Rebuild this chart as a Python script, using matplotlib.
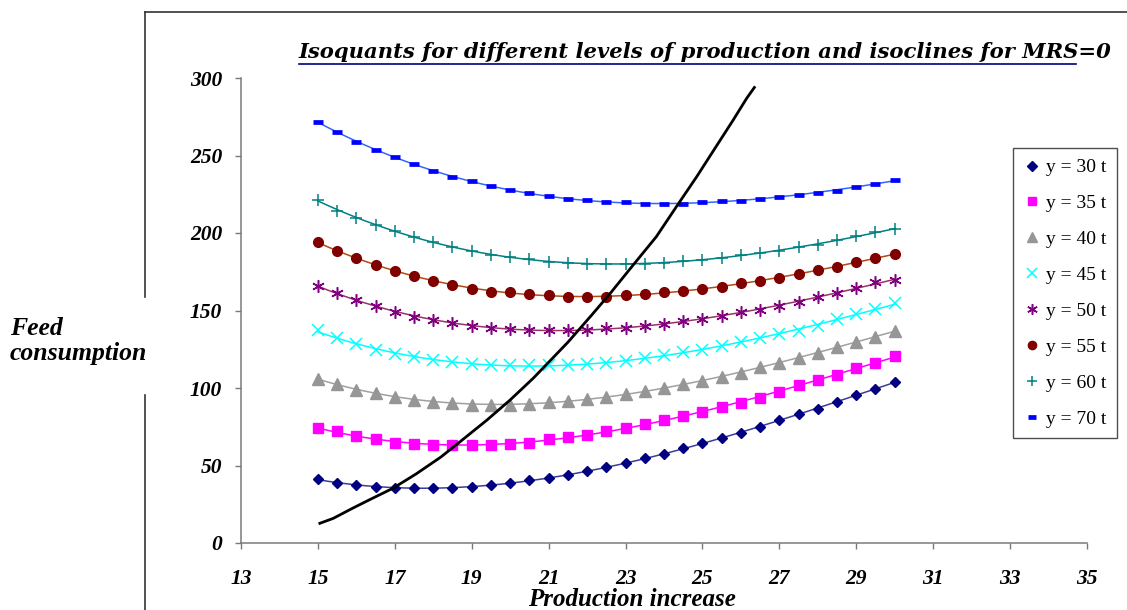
import matplotlib
matplotlib.use("Agg")
import matplotlib.pyplot as plt
from matplotlib.lines import Line2D
from matplotlib.font_manager import FontProperties
import numpy as np

# production increase (x) for the isoquant points
prod = [15, 15.5, 16, 16.5, 17, 17.5, 18, 18.5, 19, 19.5, 20, 20.5, 21, 21.5, 22,
        22.5, 23, 23.5, 24, 24.5, 25, 25.5, 26, 26.5, 27, 27.5, 28, 28.5, 29, 29.5, 30]

# feed consumption for each production level
y30 = [41.3, 38.9, 37.2, 36.3, 35.5, 35.5, 35.5, 35.5, 36.3, 37.2, 38.7, 40.4, 42.2, 43.9, 46.2,
       48.8, 51.4, 54.8, 57.4, 61.3, 64.3, 67.9, 71.2, 74.8, 79.1, 83.4, 86.7, 91.0, 95.3, 99.6, 103.9]
y35 = [74.4, 72.0, 69.2, 66.8, 64.8, 64.0, 63.3, 63.0, 63.3, 63.3, 64.0, 64.8, 66.8, 68.5, 70.0,
       72.1, 74.4, 76.9, 79.4, 82.0, 84.6, 88.0, 90.6, 93.8, 97.5, 101.8, 105.0, 108.4, 113.0, 116.2, 120.5]
y40 = [106.0, 102.7, 98.8, 96.8, 94.0, 92.0, 91.2, 90.6, 89.3, 89.3, 89.3, 89.7, 90.8, 91.9, 93.2,
       94.4, 96.2, 97.9, 99.8, 102.6, 104.7, 107.3, 110.0, 113.3, 116.1, 119.3, 122.8, 126.2, 129.8, 133.2, 137.0]
y45 = [137.3, 132.4, 128.5, 124.7, 121.9, 119.7, 118.0, 116.5, 115.4, 115.0, 114.8, 114.8, 115.0, 115.0, 115.6,
       116.1, 117.6, 119.1, 121.5, 123.0, 124.7, 127.3, 129.8, 132.4, 134.8, 137.0, 140.1, 144.4, 147.6, 150.8, 154.7]
y50 = [166.0, 161.0, 156.6, 153.0, 149.3, 146.0, 143.7, 142.0, 140.1, 138.6, 138.0, 137.5, 137.5, 137.5, 137.7,
       138.4, 139.0, 140.1, 141.0, 143.3, 144.4, 146.5, 149.3, 150.4, 153.0, 155.8, 158.4, 161.6, 164.2, 168.1, 169.8]
y55 = [194.1, 188.3, 184.0, 179.6, 175.3, 172.1, 169.3, 166.7, 163.9, 162.2, 161.7, 160.7, 160.0, 158.9, 158.9,
       158.9, 160.0, 160.7, 161.7, 162.4, 163.9, 165.0, 167.8, 169.3, 171.0, 173.6, 176.2, 177.9, 181.1, 184.0, 186.5]
y60 = [221.4, 214.5, 209.8, 205.3, 201.0, 197.3, 194.1, 190.8, 188.7, 186.1, 184.4, 183.3, 181.6, 180.7, 180.1,
       180.1, 180.1, 180.1, 180.9, 181.8, 182.7, 184.0, 186.1, 187.2, 188.7, 190.8, 192.4, 195.2, 197.9, 200.5, 202.7]
y70 = [271.7, 265.0, 259.0, 253.8, 248.8, 244.5, 240.2, 236.1, 233.3, 230.1, 227.5, 225.6, 223.8, 222.2, 221.3,
       219.8, 219.8, 219.0, 219.0, 219.0, 219.8, 220.4, 220.9, 222.2, 223.3, 224.8, 225.6, 227.4, 230.0, 231.7, 234.1]

# isocline for MRS=0
iso_x = [15.05, 15.4, 15.9, 16.35, 16.95, 17.55, 18.2, 18.7, 19.4, 20.0, 20.6, 21.05,
         21.5, 22.1, 22.6, 23.2, 23.8, 24.35, 24.85, 25.35, 25.8, 26.15, 26.35]
iso_y = [12.7, 15.9, 22.4, 28.0, 35.3, 44.5, 55.5, 65.4, 79.4, 92.3, 106.3, 117.9,
         129.5, 146.5, 161.0, 179.4, 197.6, 218.0, 236.3, 255.6, 272.9, 286.9, 293.9]

labels = ["y = 30 t", "y = 35 t", "y = 40 t", "y = 45 t", "y = 50 t", "y = 55 t", "y = 60 t", "y = 70 t"]
x_ticks = [13, 15, 17, 19, 21, 23, 25, 27, 29, 31, 33, 35]
y_ticks = [0, 50, 100, 150, 200, 250, 300]

W, H = 1127, 610
fig = plt.figure(figsize=(W / 100, H / 100), dpi=100)
fig.patch.set_facecolor("white")

def fx(px):
    return px / W

def fy(py):
    return 1 - py / H

ax = fig.add_axes([fx(241), fy(543), fx(1087) - fx(241), fy(78) - fy(543)])

# (marker, size, marker colour, line colour, extra marker kw)
styles = [
    ("D", 5.5, "#000080", "#3b3b9c", {}),
    ("s", 6.5, "#ff00ff", "#ff00ff", {}),
    ("^", 8.5, "#969696", "#a0a0a0", {}),
    ("x", 8, "#00ffff", "#00ffff", {"mew": 1.1}),
    ((6, 2, 0), 9, "#800080", "#993366", {"mew": 1.1}),
    ("o", 7, "#800000", "#b04a10", {}),
    ("+", 9, "#008080", "#008080", {"mew": 1.1}),
    ("_", 6.5, "#0000ff", "#3366ff", {"mew": 3.4}),
]
series = [y30, y35, y40, y45, y50, y55, y60, y70]

xs = np.array(prod)
xfine = np.linspace(xs.min(), xs.max(), 200)
handles = []
for ys, (mk, ms, mc, lc, kw), lab in zip(series, styles, labels):
    # trendline as in the spreadsheet (polynomial fit of the points)
    coef = np.polyfit(xs, ys, 3)
    ax.plot(xfine, np.polyval(coef, xfine), color=lc, lw=1.1, zorder=2)
    ax.plot(xs, ys, linestyle="none", marker=mk, ms=ms, color=mc, mec=mc, zorder=3, **kw)
    handles.append(Line2D([], [], linestyle="none", marker=mk, ms=ms * 0.85, color=mc, mec=mc, label=lab, **kw))

ax.plot(iso_x, iso_y, color="black", lw=2.0, zorder=4)

ax.set_xlim(13, 35)
ax.set_ylim(0, 300)
ax.set_xticks(x_ticks)
ax.set_yticks(y_ticks)
for s in ["top", "right"]:
    ax.spines[s].set_visible(False)
for s in ["left", "bottom"]:
    ax.spines[s].set_color("#7a7a7a")
    ax.spines[s].set_linewidth(1.1)
ax.tick_params(direction="out", length=4.5, width=1, color="#7a7a7a")
ax.tick_params(axis="y", pad=9)
ax.tick_params(axis="x", pad=14)
tick_font = FontProperties(family="Liberation Serif", weight="bold", style="italic", size=15.5)
for lbl in ax.get_xticklabels() + ax.get_yticklabels():
    lbl.set_fontproperties(tick_font)

leg = ax.legend(handles=handles, loc="upper left", bbox_to_anchor=(fx(1013), fy(148)),
                bbox_transform=fig.transFigure, frameon=True, fancybox=False,
                prop=dict(family="Liberation Serif", size=14), handlelength=0.9,
                handletextpad=0.25, labelspacing=0.94, borderpad=0.55, borderaxespad=0)
leg.get_frame().set_edgecolor("#222222")
leg.get_frame().set_linewidth(1.0)

# axis titles
fig.text(fx(632), fy(600), "Production increase", ha="center", va="center",
         family="Liberation Serif", weight="bold", style="italic", size=18)
fig.text(fx(10), fy(341), "Feed\nconsumption", ha="left", va="center", linespacing=1.1,
         family="Liberation Serif", weight="bold", style="italic", size=18.5)

# chart title, underlined up to "MRS"
fig.text(fx(299), fy(58), "Isoquants for different levels of production and isoclines for MRS=0",
         ha="left", va="baseline", family="DejaVu Serif", weight="bold", style="italic", size=15.2)
fig.add_artist(Line2D([fx(299), fx(1076)], [fy(63.5), fy(63.5)], color="#000080", lw=1.2))

# frame of the embedded chart
frame_kw = dict(color="#333333", lw=1.2)
fig.add_artist(Line2D([fx(145), fx(145)], [fy(12), fy(297)], **frame_kw))
fig.add_artist(Line2D([fx(145), fx(145)], [fy(395), fy(612)], **frame_kw))
fig.add_artist(Line2D([fx(145), fx(1130)], [fy(12), fy(12)], **frame_kw))

fig.savefig("out.png", dpi=100)
